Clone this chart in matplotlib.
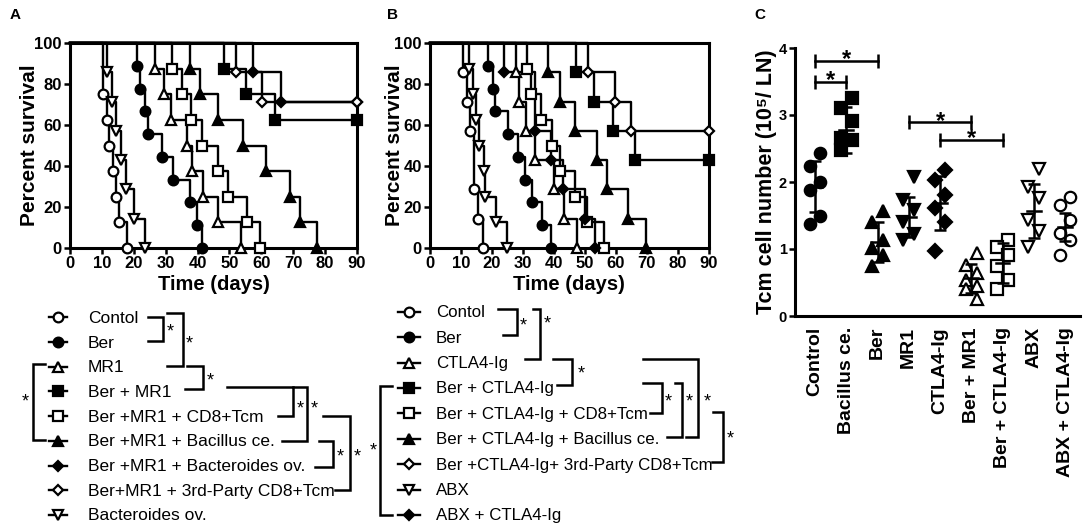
import numpy as np
import matplotlib
matplotlib.use("Agg")
from matplotlib import pyplot as plt

plt.rcParams['font.family'] = ['Liberation Sans', 'DejaVu Sans']

W, H = 1084, 527

# ---------------- panel A: Kaplan-Meier (days of death, % surviving after it)
a_labels = ['Contol', 'Ber', 'MR1', 'Ber + MR1', 'Ber +MR1 + CD8+Tcm',
            'Ber +MR1 + Bacillus ce.', 'Ber +MR1 + Bacteroides ov.',
            'Ber+MR1 + 3rd-Party CD8+Tcm', 'Bacteroides ov.']
a_times = [[10.5, 11.5, 12.3, 13.4, 14.4, 15.4, 18],
           [21, 22, 23.5, 24.5, 28.7, 32.4, 37.6, 39.7, 41.5],
           [26.5, 29.6, 31.7, 36.6, 38.4, 41.6, 46.5, 53.5],
           [48.3, 55.2, 64.3],
           [32, 35, 38, 41.3, 46.5, 49.4, 55.4, 59.5],
           [37.5, 40.8, 46.5, 54.3, 61.4, 69, 72.1, 77.5],
           [57.3, 66.1],
           [52.2, 60.1],
           [11.5, 13.2, 14.3, 16.1, 17.6, 20.1, 23.5]]
a_surv = [[75, 62.5, 50, 37.5, 25, 12.5, 0],
          [88.9, 77.8, 66.7, 55.6, 44.4, 33.3, 22.2, 11.1, 0],
          [87.5, 75, 62.5, 50, 37.5, 25, 12.5, 0],
          [87.5, 75, 62.5],
          [87.5, 75, 62.5, 50, 37.5, 25, 12.5, 0],
          [87.5, 75, 62.5, 50, 37.5, 25, 12.5, 0],
          [85.7, 71.4],
          [85.7, 71.4],
          [85.7, 71.4, 57.1, 42.9, 28.6, 14.3, 0]]
a_end = [None, None, None, 90, None, None, 90, 90, None]

# ---------------- panel B
b_labels = ['Contol', 'Ber', 'CTLA4-Ig', 'Ber + CTLA4-Ig',
            'Ber + CTLA4-Ig + CD8+Tcm', 'Ber + CTLA4-Ig + Bacillus ce.',
            'Ber +CTLA4-Ig+ 3rd-Party CD8+Tcm', 'ABX', 'ABX + CTLA4-Ig']
b_times = [[10.8, 11.9, 12.9, 14.3, 15.4, 17.0],
           [18.9, 20.5, 21.0, 25.3, 28.3, 30.7, 32.9, 36.1, 39.1],
           [27.7, 28.9, 31.0, 33.9, 40.1, 43.4, 47.5],
           [47.2, 53.1, 59.1, 66.1],
           [31.3, 32.6, 35.9, 39.3, 42, 46.9, 50.6, 56.3],
           [38.2, 42, 46.9, 53.9, 57.1, 63.9, 69.8],
           [51, 59.8, 65],
           [12.7, 14, 14.9, 15.7, 17.4, 17.9, 21.3, 24.8],
           [24, 34, 39.1, 42.9, 50.1, 53.3]]
b_surv = [[85.7, 71.4, 57.1, 28.6, 14.3, 0],
          [88.9, 77.8, 66.7, 55.6, 44.4, 33.3, 22.2, 11.1, 0],
          [85.7, 71.4, 57.1, 42.9, 28.6, 14.3, 0],
          [85.7, 71.4, 57.1, 42.9],
          [87.5, 75, 62.5, 50, 37.5, 25, 12.5, 0],
          [85.7, 71.4, 57.1, 42.9, 28.6, 14.3, 0],
          [85.7, 71.4, 57.1],
          [87.5, 75, 62.5, 50, 37.5, 25, 12.5, 0],
          [85.7, 57.1, 42.9, 28.6, 14.3, 0]]
b_end = [None, None, None, 90, None, None, 90, None, None]

# ---------------- panel C: Tcm cell number (10^5 / LN)
c_groups = ['Control', 'Bacillus ce.', 'Ber', 'MR1', 'CTLA4-Ig', 'Ber + MR1',
            'Ber + CTLA4-Ig', 'ABX', 'ABX + CTLA4-Ig']
c_values = [[2.43, 2.24, 2.00, 1.88, 1.49, 1.37],
            [3.26, 3.10, 2.91, 2.65, 2.63, 2.48],
            [1.56, 1.41, 1.13, 1.01, 0.91, 0.74],
            [2.08, 1.73, 1.58, 1.41, 1.23, 1.13],
            [2.18, 2.03, 1.81, 1.61, 1.41, 0.97],
            [0.94, 0.76, 0.64, 0.53, 0.45, 0.40, 0.25],
            [1.14, 1.03, 0.91, 0.75, 0.54, 0.40],
            [2.20, 1.93, 1.76, 1.43, 1.27, 1.03],
            [1.78, 1.65, 1.43, 1.24, 1.14, 0.91]]
c_means = [1.93, 2.78, 1.11, 1.48, 1.69, 0.56, 0.79, 1.57, 1.33]
c_sds = [0.38, 0.34, 0.30, 0.30, 0.40, 0.22, 0.30, 0.40, 0.21]
c_sig = [(0, 2, 3.81), (0, 1, 3.50), (3, 5, 2.89), (4, 6, 2.63)]

# marker styles (shape, face)
a_styles = [('o', 'white'), ('o', 'black'), ('^', 'white'), ('s', 'black'),
            ('s', 'white'), ('^', 'black'), ('D', 'black'), ('D', 'white'),
            ('v', 'white')]
b_styles = [('o', 'white'), ('o', 'black'), ('^', 'white'), ('s', 'black'),
            ('s', 'white'), ('^', 'black'), ('D', 'white'), ('v', 'white'),
            ('D', 'black')]
c_styles = [('o', 'black'), ('s', 'black'), ('^', 'black'), ('v', 'black'),
            ('D', 'black'), ('^', 'white'), ('s', 'white'), ('v', 'white'),
            ('o', 'white')]


def msize(m):
    return 5.5 if m == 'D' else 7


def km_panel(ax, times, surv, ends, styles, ylab_x):
    for t, s, e in zip(times, surv, ends):
        xs = [0] + list(t)
        ys = [100] + list(s)
        if e is not None:
            xs.append(e)
            ys.append(s[-1])
        ax.step(xs, ys, where='post', color='black', lw=1.7, zorder=2,
                clip_on=False)
    for t, s, e, (m, fc) in zip(times, surv, ends, styles):
        mx = list(t) + ([e] if e is not None else [])
        my = list(s) + ([s[-1]] if e is not None else [])
        ax.plot(mx, my, ls='none', marker=m, ms=msize(m), mfc=fc,
                mec='black', mew=1.6, zorder=3, clip_on=False)
    ax.set_xlim(0, 90)
    ax.set_ylim(0, 100)
    ax.set_xticks(range(0, 91, 10))
    ax.set_yticks(range(0, 101, 20))
    for sp in ax.spines.values():
        sp.set_linewidth(2.2)
    ax.tick_params(width=1.8, length=4, labelsize=12, pad=2)
    for lab in ax.get_xticklabels() + ax.get_yticklabels():
        lab.set_fontweight('bold')
    ax.set_xlabel('Time (days)', fontsize=14.5, fontweight='bold', labelpad=3)
    ax.set_ylabel('Percent survival', fontsize=15, fontweight='bold')
    ax.yaxis.set_label_coords(ylab_x, 0.5)


fig = plt.figure(figsize=(W / 100, H / 100), dpi=100)

ax_a = fig.add_axes([70 / W, 1 - 248 / H, 287 / W, 205 / H])
km_panel(ax_a, a_times, a_surv, a_end, a_styles, -0.108)

ax_b = fig.add_axes([430 / W, 1 - 248 / H, 278.5 / W, 205 / H])
km_panel(ax_b, b_times, b_surv, b_end, b_styles, -0.095)

# ---------------- panel C
ax_c = fig.add_axes([795 / W, 1 - 316 / H, 285 / W, 268 / H])
for i, (vals, (m, fc)) in enumerate(zip(c_values, c_styles)):
    vals = np.array(vals)
    order = np.argsort(vals)[::-1]
    offs = np.zeros(len(vals))
    offs[order] = [0.17 if k % 2 == 0 else -0.17 for k in range(len(vals))]
    ax_c.plot(i + offs, vals, ls='none', marker=m, ms=msize(m) + 1.2,
              mfc=fc, mec='black', mew=1.6, zorder=2)
    ax_c.plot([i - 0.22, i + 0.22], [c_means[i]] * 2, color='black', lw=1.8,
              zorder=3)
    ax_c.errorbar([i], [c_means[i]], yerr=[c_sds[i]], fmt='none',
                  ecolor='black', elinewidth=1.8, capsize=4, capthick=1.8,
                  zorder=3)
for g1, g2, h in c_sig:
    ax_c.plot([g1, g2], [h, h], color='black', lw=1.8, marker='|', ms=10,
              mew=1.8, clip_on=False)
    ax_c.text((g1 + g2) / 2, h - 0.08, '*', ha='center', va='baseline',
              fontsize=17, fontweight='bold')
ax_c.set_xlim(-0.64, 8.48)
ax_c.set_ylim(0, 4)
ax_c.set_yticks(range(5))
ax_c.set_xticks(range(len(c_groups)))
ax_c.set_xticklabels(c_groups, rotation=90, fontsize=14, fontweight='bold')
for lab in ax_c.get_yticklabels():
    lab.set_fontweight('bold')
ax_c.tick_params(axis='y', width=1.8, length=4, labelsize=10.5, pad=2)
ax_c.tick_params(axis='x', length=0, pad=8)
for side in ('top', 'right'):
    ax_c.spines[side].set_visible(False)
for side in ('left', 'bottom'):
    ax_c.spines[side].set_linewidth(2.2)
ax_c.set_ylabel('Tcm cell number (10⁵/ LN)', fontsize=15.5,
                fontweight='bold')
ax_c.yaxis.set_label_coords(-0.062, 0.5)

# ---------------- legends with significance brackets (figure pixel space)
ov = fig.add_axes([0, 0, 1, 1])
ov.set_xlim(0, W)
ov.set_ylim(H, 0)
ov.axis('off')


def legend_rows(labels, styles, y0, dy, x0, x1, xt, fs):
    rows = []
    for k, (lab, (m, fc)) in enumerate(zip(labels, styles)):
        y = y0 + k * dy
        rows.append(y)
        ov.plot([x0, x1], [y, y], color='black', lw=1.7)
        ov.plot([(x0 + x1) / 2], [y], marker=m, ms=msize(m), mfc=fc,
                mec='black', mew=1.6)
        ov.text(xt, y + 1, lab, fontsize=fs, va='center', ha='left')
    return rows


def bracket(xa, xv, xb, ya, yb, star):
    ov.plot([xa, xv, xv, xb], [ya, ya, yb, yb], color='black', lw=1.8,
            solid_joinstyle='miter')
    ov.text(star[0], star[1] + 4, '*', fontsize=13, ha='center',
            va='center')


legend_rows(a_labels, a_styles, 317.3, 24.7, 49, 67, 88, 12.5)
bracket(148, 163, 148, 317, 341, (170, 328))
bracket(167, 183, 167, 313, 366, (189, 340))
bracket(187, 203, 185, 366, 389, (210, 377))
bracket(45, 33, 45, 364, 440, (25, 398))
bracket(227, 293, 278, 387, 415.7, (300, 405))
bracket(293, 307, 282, 387, 440.7, (314, 405))
bracket(319, 333, 315, 440.7, 466.7, (340, 453))
bracket(323, 350, 335, 415.7, 490, (357, 453))

legend_rows(b_labels, b_styles, 311.7, 25.4, 398, 420, 436, 12.2)
bracket(498, 517, 503, 309, 335, (523, 322))
bracket(533, 540, 525, 309, 359, (547, 320))
bracket(553, 572, 557, 359, 385, (581, 370))
bracket(392, 380, 392, 386, 515, (373, 447))
bracket(643, 662, 650, 383, 413, (668, 398))
bracket(675, 682, 667, 383, 437, (689, 398))
bracket(643, 698, 686, 359, 437, (707, 398))
bracket(713, 723, 712, 412, 462, (730, 435))

for letter, x in (('A', 15), ('B', 392), ('C', 760)):
    fig.text(x / W, 1 - 15 / H, letter, fontsize=11, fontweight='bold',
             ha='center', va='center')

fig.savefig('out.png', dpi=100)
